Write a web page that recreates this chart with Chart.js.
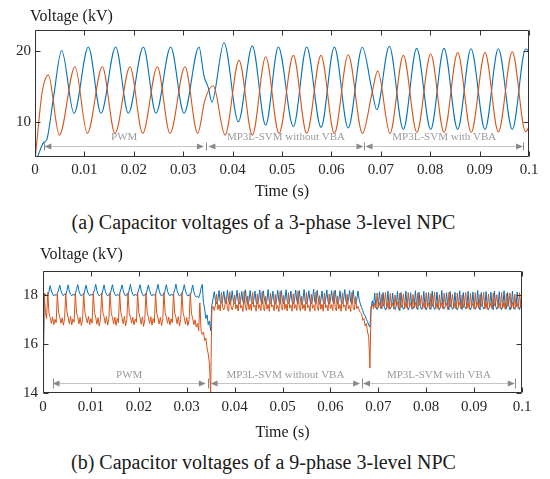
<!DOCTYPE html>
<html><head><meta charset="utf-8">
<script src="https://cdn.jsdelivr.net/npm/chart.js@4.4.1/dist/chart.umd.min.js"></script>
<style>
body{margin:0;background:#fff;}
#wrap{position:relative;width:550px;height:479px;overflow:hidden;font-family:"Liberation Serif","Times New Roman",Times,serif;color:#1a1a1a;}
canvas{position:absolute;left:0;}
.lbl{position:absolute;white-space:nowrap;line-height:1;}
.cap{left:0;width:527px;text-align:center;font-size:20px;}
</style></head><body>
<div id="wrap">
<canvas id="c3" width="550" height="205" style="top:0px"></canvas>
<canvas id="c9" width="550" height="210" style="top:240px"></canvas>
<div class="lbl" style="left:30px;top:8px;font-size:16px">Voltage (kV)</div>
<div class="lbl" style="left:40px;top:246px;font-size:16px">Voltage (kV)</div>
<div class="lbl cap" style="top:212px">(a) Capacitor voltages of a 3-phase 3-level NPC</div>
<div class="lbl cap" style="top:452px">(b) Capacitor voltages of a 9-phase 3-level NPC</div>
</div>
<script>
// ---------- data ----------
const xTickVals = [0, 0.01, 0.02, 0.03, 0.04, 0.05, 0.06, 0.07, 0.08, 0.09, 0.1];
const xTickLabels = ['0', '0.01', '0.02', '0.03', '0.04', '0.05', '0.06', '0.07', '0.08', '0.09', '0.1'];
const yTickVals3 = [10, 20];
const yTickLabels3 = ['10', '20'];
const yTickVals9 = [14, 16, 18];
const yTickLabels9 = ['14', '16', '18'];
const phaseNames = ['PWM', 'MP3L-SVM without VBA', 'MP3L-SVM with VBA'];

// (a) 3-phase: turning points of the two capacitor voltages (time s, kV)
const t3Blue = [0, 0.0006, 0.0017, 0.0024, 0.0037, 0.0054, 0.0079, 0.0108, 0.01336, 0.01633, 0.01889, 0.02193, 0.02449, 0.02746, 0.03016, 0.0332, 0.0342, 0.0351, 0.0358, 0.03826, 0.04116, 0.04399, 0.0467, 0.04926, 0.0523, 0.055, 0.0579, 0.0606, 0.0634, 0.06626, 0.06815, 0.06917, 0.07172, 0.07456, 0.07726, 0.0801, 0.0828, 0.08556, 0.08826, 0.0911, 0.09379, 0.09662, 0.09933, 0.1];
const v3Blue = [4.3, 5.2, 7.0, 7.5, 13.2, 20.1, 11.2, 20.6, 11.2, 20.6, 11.2, 20.6, 11.2, 20.6, 11.2, 20.6, 16.5, 14.8, 12.8, 21.2, 10.0, 20.75, 9.5, 20.6, 9.3, 20.6, 9.2, 20.6, 9.1, 20.55, 14.7, 11.7, 20.7, 8.9, 20.4, 8.9, 20.4, 8.9, 20.35, 8.9, 20.35, 8.9, 20.3, 20.0];
const t3Orange = [0, 0.0007, 0.0014, 0.0027, 0.00493, 0.0081, 0.01059, 0.01363, 0.01619, 0.01923, 0.0218, 0.02476, 0.02733, 0.03036, 0.03293, 0.0344, 0.0361, 0.03846, 0.0413, 0.044, 0.0467, 0.0494, 0.0523, 0.055, 0.0579, 0.0606, 0.0634, 0.0663, 0.06815, 0.06937, 0.07186, 0.07456, 0.0773, 0.0801, 0.0828, 0.08556, 0.0883, 0.0911, 0.0938, 0.09662, 0.0993, 0.1];
const v3Orange = [4.5, 9.5, 14.0, 16.6, 8.1, 17.8, 8.35, 17.8, 8.35, 17.8, 8.35, 17.8, 8.35, 17.8, 8.35, 13.1, 15.1, 8.1, 18.7, 8.1, 19.2, 8.35, 19.4, 8.35, 19.4, 8.35, 19.5, 8.35, 13.8, 17.2, 8.35, 19.4, 8.5, 19.6, 8.5, 19.8, 8.5, 19.8, 8.55, 19.9, 8.6, 9.2];

// (b) 9-phase: samples every 0.25 ms from t = 0 (kV)
const t9Step = 0.00025;
const v9Blue = [
14.0, 18.0, 18.05, 17.98, 18.02, 18.15, 18.4, 18.18, 18.05, 17.98, 18.04, 18.0, 18.06, 18.22, 18.42, 18.2, 18.06, 17.99, 18.05, 18.01,
18.2, 18.43, 18.17, 18.04, 17.98, 18.05, 18.0, 18.07, 18.24, 18.44, 18.19, 18.05, 17.97, 18.04, 18.02, 18.22, 18.42, 18.18, 18.05, 17.98,
18.05, 18.0, 18.06, 18.23, 18.45, 18.2, 18.05, 17.98, 18.04, 18.01, 18.21, 18.43, 18.17, 18.04, 17.97, 18.05, 18.02, 18.23, 18.44, 18.18,
18.05, 17.98, 18.04, 18.0, 18.07, 18.24, 18.43, 18.19, 18.05, 17.97, 18.05, 18.01, 18.22, 18.45, 18.18, 18.04, 17.98, 18.05, 18.0, 18.08,
18.24, 18.44, 18.18, 18.05, 17.97, 18.04, 18.02, 18.22, 18.43, 18.2, 18.05, 17.98, 18.05, 18.0, 18.06, 18.23, 18.45, 18.19, 18.05, 17.97,
18.04, 18.02, 18.22, 18.44, 18.18, 18.04, 17.98, 18.05, 18.0, 18.07, 18.24, 18.46, 18.2, 18.05, 17.97, 18.04, 18.02, 18.22, 18.44, 18.18,
18.04, 17.97, 18.03, 17.98, 18.2, 18.42, 18.15, 18.0, 17.93, 17.97, 17.9, 18.05, 18.3, 18.45, 17.7, 17.45, 17.05, 17.2, 16.8, 16.95,
16.55, 17.6, 17.85, 18.15, 17.8, 17.65, 17.78, 18.2, 17.75, 17.68, 17.82, 18.17, 17.72, 17.66, 18.22, 17.8, 17.64, 17.77, 18.19, 17.74,
17.67, 17.8, 18.21, 17.76, 17.65, 17.79, 18.16, 17.73, 17.68, 18.23, 17.79, 17.63, 17.78, 18.2, 17.75, 17.66, 17.8, 18.18, 17.72, 17.65,
17.82, 18.22, 17.77, 17.64, 18.19, 17.8, 17.66, 17.79, 18.24, 17.74, 17.67, 17.81, 18.17, 17.73, 17.64, 17.78, 18.21, 17.76, 17.66, 18.2,
17.79, 17.65, 17.8, 18.23, 17.75, 17.67, 17.81, 18.18, 17.73, 17.64, 17.79, 18.22, 17.77, 17.66, 18.2, 17.8, 17.63, 17.78, 18.24, 17.74,
17.66, 17.81, 18.19, 17.76, 17.65, 17.8, 18.25, 17.73, 17.67, 18.21, 17.79, 17.64, 17.78, 18.18, 17.75, 17.66, 17.82, 18.23, 17.74, 17.65,
17.8, 18.2, 17.77, 17.66, 18.22, 17.79, 17.64, 17.8, 18.19, 17.74, 17.67, 17.81, 18.24, 17.76, 17.65, 17.79, 18.2, 17.73, 17.66, 18.21,
17.78, 17.65, 17.8, 18.18, 17.85, 17.65, 17.5, 17.38, 17.22, 17.18, 17.02, 16.92, 16.78, 16.7, 17.5, 17.78, 17.55, 18.1, 17.52, 17.42,
17.55, 18.15, 17.6, 17.45, 18.12, 17.55, 17.4, 17.52, 18.18, 17.58, 17.44, 17.56, 18.1, 17.5, 17.42, 17.57, 18.16, 17.55, 17.38, 18.12,
17.56, 17.43, 17.54, 18.17, 17.58, 17.4, 17.55, 18.11, 17.52, 17.44, 17.57, 18.19, 17.55, 17.41, 18.13, 17.58, 17.43, 17.53, 18.16, 17.56,
17.4, 17.55, 18.12, 17.52, 17.43, 18.18, 17.57, 17.42, 17.54, 18.14, 17.55, 17.4, 17.56, 18.2, 17.53, 17.44, 17.57, 18.11, 17.58, 17.41,
18.16, 17.55, 17.43, 17.54, 18.13, 17.52, 17.4, 17.57, 18.19, 17.56, 17.42, 18.12, 17.58, 17.44, 17.55, 18.17, 17.53, 17.41, 17.56, 18.14,
17.55, 17.43, 17.57, 18.2, 17.54, 17.4, 18.12, 17.58, 17.44, 17.55, 18.16, 17.52, 17.42, 17.56, 18.13, 17.57, 17.41, 18.18, 17.55, 17.43,
17.54, 18.15, 17.56, 17.42, 17.57, 18.19, 17.53, 17.44, 18.12, 17.58, 17.4, 17.55, 18.17, 17.54, 17.43, 17.56, 18.14, 17.57, 17.42, 17.6,
18.22];
const v9Orange = [
14.0, 18.1, 17.3, 17.05, 18.12, 17.28, 17.1, 16.85, 17.12, 16.8, 17.02, 16.88, 18.1, 17.3, 17.12, 16.86, 17.08, 16.78, 17.04, 18.08,
17.32, 17.1, 16.84, 17.15, 16.79, 17.03, 16.9, 18.12, 17.27, 17.13, 16.83, 17.1, 16.76, 17.0, 18.09, 17.31, 17.08, 16.87, 17.14, 16.8,
17.05, 16.86, 18.11, 17.29, 17.11, 16.82, 17.09, 16.74, 17.02, 18.1, 17.3, 17.12, 16.85, 17.13, 16.78, 17.04, 18.12, 17.26, 17.1, 16.83,
17.11, 16.77, 17.06, 16.88, 18.1, 17.3, 17.09, 16.84, 17.14, 16.75, 17.01, 18.11, 17.28, 17.12, 16.86, 17.1, 16.79, 17.03, 16.9, 18.12,
17.29, 17.1, 16.82, 17.12, 16.73, 17.02, 18.1, 17.31, 17.11, 16.85, 17.13, 16.78, 17.05, 16.87, 18.11, 17.27, 17.08, 16.83, 17.1, 16.76,
17.0, 18.12, 17.3, 17.12, 16.86, 17.11, 16.79, 17.04, 16.88, 18.1, 17.28, 17.1, 16.84, 17.13, 16.74, 17.02, 18.11, 17.29, 17.09, 16.82,
17.1, 16.77, 17.0, 18.08, 17.25, 17.05, 16.8, 17.0, 16.7, 16.85, 16.55, 17.7, 16.55, 16.4, 16.5, 16.15, 16.25, 15.85, 15.6, 15.2,
14.0, 17.45, 17.55, 17.38, 17.6, 18.05, 17.42, 17.62, 17.36, 18.12, 17.5, 17.4, 17.63, 17.95, 17.45, 17.35, 18.15, 17.55, 17.4, 17.6,
18.02, 17.44, 17.62, 17.36, 18.1, 17.48, 17.58, 17.34, 18.18, 17.5, 17.38, 17.98, 17.42, 17.64, 17.37, 18.12, 17.52, 17.6, 17.35, 18.06,
17.46, 17.62, 17.38, 18.15, 17.5, 17.36, 17.96, 17.44, 17.63, 17.35, 18.1, 17.52, 17.6, 17.37, 18.04, 17.45, 17.58, 17.34, 18.16, 17.5,
17.4, 18.0, 17.43, 17.64, 17.36, 18.11, 17.48, 17.6, 17.35, 18.07, 17.46, 17.62, 17.38, 18.17, 17.52, 17.37, 17.97, 17.44, 17.63, 17.36,
18.12, 17.5, 17.59, 17.34, 18.05, 17.47, 17.61, 17.37, 18.14, 17.51, 17.38, 17.99, 17.43, 17.64, 17.35, 18.1, 17.49, 17.6, 17.36, 18.06,
17.46, 17.62, 17.38, 18.16, 17.5, 17.36, 17.98, 17.44, 17.63, 17.35, 18.11, 17.52, 17.6, 17.37, 18.05, 17.45, 17.58, 17.34, 18.13, 17.5,
17.4, 17.95, 17.45, 17.55, 17.4, 17.3, 17.25, 16.98, 17.05, 16.75, 16.85, 16.5, 16.3, 15.02, 17.55, 17.62, 17.45, 17.68, 17.48, 18.1,
17.5, 17.7, 17.45, 18.05, 17.55, 17.68, 18.12, 17.46, 17.7, 17.43, 18.08, 17.52, 17.69, 17.44, 18.02, 17.58, 17.72, 17.42, 18.1, 17.5,
17.66, 18.06, 17.45, 17.7, 17.48, 18.12, 17.55, 17.68, 17.43, 18.04, 17.5, 17.71, 17.46, 18.1, 17.58, 17.67, 18.0, 17.44, 17.7, 17.47,
18.11, 17.52, 17.69, 17.43, 18.07, 17.55, 17.72, 18.13, 17.46, 17.68, 17.44, 18.03, 17.5, 17.7, 17.45, 18.09, 17.57, 17.67, 17.42, 18.12,
17.52, 17.7, 18.05, 17.47, 17.69, 17.44, 18.1, 17.55, 17.71, 17.45, 18.02, 17.5, 17.68, 18.12, 17.46, 17.7, 17.43, 18.08, 17.56, 17.67,
17.44, 18.11, 17.5, 17.72, 17.46, 18.04, 17.55, 17.68, 18.13, 17.45, 17.7, 17.43, 18.06, 17.52, 17.69, 17.44, 18.1, 17.57, 17.71, 18.03,
17.47, 17.68, 17.45, 18.12, 17.5, 17.7, 17.43, 18.07, 17.55, 17.69, 18.1, 17.46, 17.72, 17.44, 18.05, 17.52, 17.68, 17.45, 18.11, 17.55,
17.6];

// phase annotations (time spans, kV levels)
const phaseSpans3 = [[0.0019, 0.0342], [0.0351, 0.0665], [0.0669, 0.0988]];
const phaseBars3 = [0.0019, 0.0346, 0.0667, 0.0988];
const phaseSpans9 = [[0.002, 0.034], [0.035, 0.0662], [0.0668, 0.0985]];
const phaseBars9 = [0.002, 0.0345, 0.0665, 0.0985];

// ---------- rendering ----------
const FONT = '"Liberation Serif","Times New Roman",Times,serif';
const BLUE = '#0072BD', ORANGE = '#D95319', AXIS = '#333333';
Chart.defaults.font.family = FONT;

const pts = (ts, vs) => ts.map((t, i) => ({x: t, y: vs[i]}));
const grid = (vs, step) => vs.map((v, i) => ({x: i * step, y: v}));

const matlabBox = {
  id: 'matlabBox',
  afterDatasetsDraw(chart, args, o) {
    const {ctx, chartArea: a, scales: {x, y}} = chart;
    ctx.save();
    ctx.strokeStyle = AXIS; ctx.lineWidth = 1;
    const L = Math.round(a.left) + 0.5, R = Math.round(a.right) - 0.5;
    const T = Math.round(a.top) + 0.5, B = Math.round(a.bottom) - 0.5;
    ctx.beginPath();
    ctx.rect(L, T, R - L, B - T);
    x.ticks.forEach(t => {
      const px = Math.round(x.getPixelForValue(t.value)) + 0.5;
      ctx.moveTo(px, B); ctx.lineTo(px, B - o.len);
      ctx.moveTo(px, T); ctx.lineTo(px, T + o.len);
    });
    y.ticks.forEach(t => {
      const py = Math.round(y.getPixelForValue(t.value)) + 0.5;
      ctx.moveTo(L, py); ctx.lineTo(L + o.len, py);
      ctx.moveTo(R, py); ctx.lineTo(R - o.len, py);
    });
    ctx.stroke();
    ctx.restore();
  }
};

const phaseArrows = {
  id: 'phaseArrows',
  afterDatasetsDraw(chart, args, o) {
    const {ctx, scales: {x, y}} = chart;
    const yy = Math.round(y.getPixelForValue(o.arrowAt)) + 0.5;
    const ty = y.getPixelForValue(o.textAt);
    const h = 7, w = 3;
    ctx.save();
    o.spans.forEach((sp, i) => {
      const x1 = x.getPixelForValue(sp[0]), x2 = x.getPixelForValue(sp[1]);
      ctx.strokeStyle = '#c4c4c4'; ctx.lineWidth = 1;
      ctx.beginPath(); ctx.moveTo(x1 + 2, yy); ctx.lineTo(x2 - 2, yy); ctx.stroke();
      ctx.fillStyle = '#8a8a8a';
      ctx.beginPath(); ctx.moveTo(x1, yy); ctx.lineTo(x1 + h, yy - w); ctx.lineTo(x1 + h, yy + w); ctx.closePath(); ctx.fill();
      ctx.beginPath(); ctx.moveTo(x2, yy); ctx.lineTo(x2 - h, yy - w); ctx.lineTo(x2 - h, yy + w); ctx.closePath(); ctx.fill();
      ctx.fillStyle = '#9a9a9a';
      ctx.font = '11px ' + FONT;
      ctx.textAlign = 'center'; ctx.textBaseline = 'middle';
      ctx.fillText(o.names[i], (x1 + x2) / 2, ty);
    });
    ctx.strokeStyle = '#8a8a8a'; ctx.lineWidth = 1;
    o.bars.forEach(b => {
      const px = Math.round(x.getPixelForValue(b)) + 0.5;
      ctx.beginPath(); ctx.moveTo(px, yy - o.barHalf); ctx.lineTo(px, yy + o.barHalf); ctx.stroke();
    });
    ctx.restore();
  }
};

function axisX(height, pad, titlePad) {
  return {
    type: 'linear', min: 0, max: 0.1,
    grid: {display: false, drawTicks: false}, border: {display: false},
    afterBuildTicks: s => { s.ticks = xTickVals.map(v => ({value: v})); },
    afterFit: s => { s.height = height; },
    ticks: {autoSkip: false, maxRotation: 0, minRotation: 0, padding: pad, color: '#262626',
      font: {family: FONT, size: 15}, callback: (v, i) => xTickLabels[i]},
    title: {display: true, text: 'Time (s)', color: '#1a1a1a', font: {family: FONT, size: 16},
      padding: {top: 0, bottom: titlePad}}
  };
}
function axisY(min, max, vals, labels, width, pad) {
  return {
    min: min, max: max,
    grid: {display: false, drawTicks: false}, border: {display: false},
    afterBuildTicks: s => { s.ticks = vals.map(v => ({value: v})); },
    afterFit: s => { s.width = width; },
    ticks: {autoSkip: false, padding: pad, color: '#262626', font: {family: FONT, size: 15},
      callback: (v, i) => labels[i]}
  };
}

new Chart(document.getElementById('c3'), {
  type: 'line',
  data: {datasets: [
    {label: 'Capacitor 2', data: pts(t3Orange, v3Orange), borderColor: ORANGE, borderWidth: 1.1,
     pointRadius: 0, cubicInterpolationMode: 'monotone', order: 1},
    {label: 'Capacitor 1', data: pts(t3Blue, v3Blue), borderColor: BLUE, borderWidth: 1.1,
     pointRadius: 0, cubicInterpolationMode: 'monotone', order: 2}
  ]},
  options: {
    responsive: false, animation: false, events: [],
    layout: {padding: {left: 0, top: 30, right: 21, bottom: 0}},
    plugins: {legend: {display: false}, tooltip: {enabled: false},
      matlabBox: {len: 5},
      phaseArrows: {names: phaseNames, spans: phaseSpans3, bars: phaseBars3, arrowAt: 6.55, textAt: 7.75, barHalf: 4}},
    scales: {x: axisX(48, 4, 4), y: axisY(5, 23, yTickVals3, yTickLabels3, 35, 4)}
  },
  plugins: [matlabBox, phaseArrows]
});

new Chart(document.getElementById('c9'), {
  type: 'line',
  data: {datasets: [
    {label: 'Capacitor 2', data: grid(v9Orange, t9Step), borderColor: ORANGE, borderWidth: 1,
     pointRadius: 0, tension: 0, order: 1},
    {label: 'Capacitor 1', data: grid(v9Blue, t9Step), borderColor: BLUE, borderWidth: 1,
     pointRadius: 0, tension: 0, order: 2}
  ]},
  options: {
    responsive: false, animation: false, events: [],
    layout: {padding: {left: 0, top: 31, right: 28, bottom: 0}},
    plugins: {legend: {display: false}, tooltip: {enabled: false},
      matlabBox: {len: 5},
      phaseArrows: {names: phaseNames, spans: phaseSpans9, bars: phaseBars9, arrowAt: 14.42, textAt: 14.75, barHalf: 5}},
    scales: {x: axisX(57, 5, 8), y: axisY(14, 19, yTickVals9, yTickLabels9, 43, 5)}
  },
  plugins: [matlabBox, phaseArrows]
});
</script>
</body></html>
